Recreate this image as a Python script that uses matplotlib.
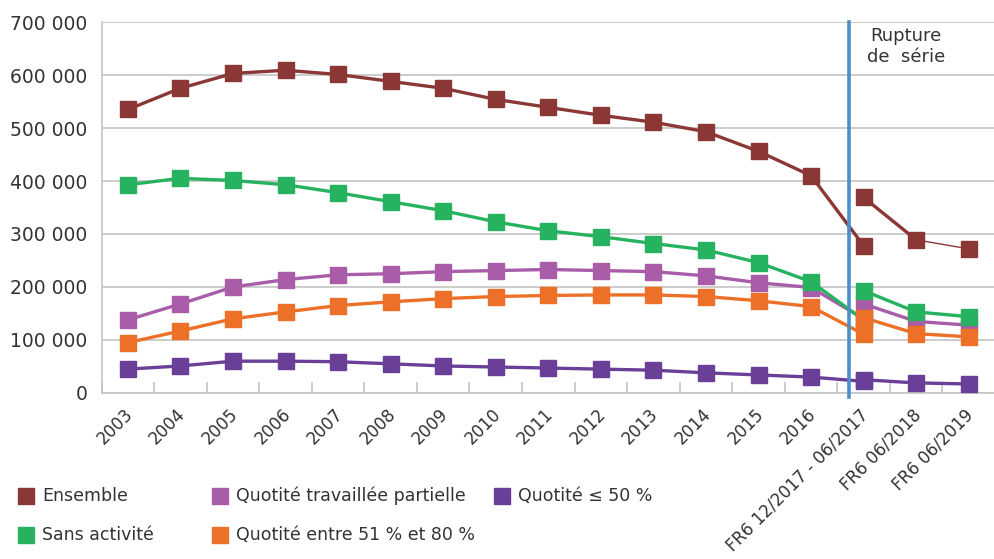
import matplotlib
matplotlib.use("Agg")
import matplotlib.pyplot as plt
import matplotlib.transforms as mtransforms
from matplotlib.patches import Rectangle
from matplotlib.ticker import FuncFormatter

# Categories on the x axis
categories = ["2003", "2004", "2005", "2006", "2007", "2008", "2009", "2010",
              "2011", "2012", "2013", "2014", "2015", "2016",
              "FR6 12/2017 - 06/2017", "FR6 06/2018", "FR6 06/2019"]

# Former series: 2003-2016 plus the FR6 12/2017 point under the old method
ensemble_old = [535000, 575000, 603000, 609000, 601000, 588000, 575000, 554000,
                539000, 524000, 511000, 493000, 456000, 410000, 278000]
sans_activite_old = [393000, 405000, 401000, 393000, 378000, 361000, 344000, 323000,
                     306000, 295000, 282000, 270000, 246000, 210000, 138000]
partielle_old = [138000, 168000, 200000, 214000, 223000, 225000, 229000, 231000,
                 233000, 231000, 229000, 221000, 208000, 199000, 140000]
q51_80_old = [95000, 117000, 140000, 153000, 165000, 172000, 178000, 182000,
              184000, 185000, 185000, 182000, 174000, 163000, 111000]
q50_old = [45000, 51000, 60000, 60000, 59000, 55000, 51000, 49000,
           47000, 45000, 43000, 38000, 34000, 30000, 22000]

# New series: FR6 12/2017, FR6 06/2018, FR6 06/2019
ensemble_new = [369000, 289000, 272000]
sans_activite_new = [193000, 153000, 144000]
partielle_new = [168000, 135000, 128000]
q51_80_new = [142000, 112000, 106000]
q50_new = [25000, 19000, 17000]

labels = ["Ensemble", "Quotité travaillée partielle", "Sans activité",
          "Quotité entre 51 % et 80 %", "Quotité ≤ 50 %"]
colors = ["#8B3735", "#A95CA7", "#27B260", "#EC7027", "#6A3F98"]
old_series = [ensemble_old, partielle_old, sans_activite_old, q51_80_old, q50_old]
new_series = [ensemble_new, partielle_new, sans_activite_new, q51_80_new, q50_new]

text_color = "#333333"
plt.rcParams["font.family"] = ["DejaVu Sans"]

fig = plt.figure(figsize=(9.95, 5.59), dpi=100)
ax = fig.add_axes([0.1021, 0.2970, 1 - 0.1021, 0.9606 - 0.2970])

x_old = list(range(len(ensemble_old)))
x_new = list(range(14, 14 + len(ensemble_new)))

for i, (lab, col, yo, yn) in enumerate(zip(labels, colors, old_series, new_series)):
    z = 3 + i
    ax.plot(x_old, yo, color=col, lw=2.4, marker="s", ms=11.5, mec=col,
            zorder=z, solid_joinstyle="round")
    if i == 0:
        ax.plot(x_new[:2], yn[:2], color=col, lw=2.4, zorder=z)
        ax.plot(x_new[1:], yn[1:], color=col, lw=1.0, zorder=z)
        ax.plot(x_new, yn, ls="none", marker="s", ms=11.5, color=col, zorder=z)
    else:
        ax.plot(x_new, yn, color=col, lw=2.4, marker="s", ms=11.5, mec=col,
                zorder=z, solid_joinstyle="round")

# Series break marker
ax.axvline(13.73, ymin=-0.012, ymax=1.0, color="#4A8FCC", lw=2.6, zorder=10,
           clip_on=False)
ax.text(13.73 + 1.08, 690000, "Rupture\nde  série", ha="center", va="top",
        fontsize=13, color=text_color, linespacing=1.2)

ax.set_xlim(-0.5, 16.42)
ax.set_ylim(0, 700000)
ax.set_yticks(range(0, 700001, 100000))
ax.yaxis.set_major_formatter(FuncFormatter(
    lambda v, p: "0" if v == 0 else f"{int(v):,}".replace(",", " ")))
ax.grid(axis="y", color="#C4C4C4", lw=1.2)
ax.set_axisbelow(True)

ax.set_xticks(range(len(categories)))
ax.set_xticklabels(categories, rotation=45, ha="right", va="top",
                   rotation_mode="anchor", fontsize=12.1, color=text_color)
ax.tick_params(axis="x", length=0, pad=11)
shift = mtransforms.ScaledTranslation(-3 / 72, 2 / 72, fig.dpi_scale_trans)
for lbl in ax.get_xticklabels():
    lbl.set_transform(lbl.get_transform() + shift)
ax.set_xticks([k - 0.5 for k in range(len(categories) + 1)], minor=True)
ax.tick_params(axis="x", which="minor", direction="in", length=8,
               color="#C4C4C4", width=1.2)
ax.tick_params(axis="y", length=0, pad=10, labelsize=13.5, labelcolor=text_color)

for s in ["top", "right"]:
    ax.spines[s].set_visible(False)
for s in ["left", "bottom"]:
    ax.spines[s].set_color("#C4C4C4")
    ax.spines[s].set_linewidth(1.2)

# Legend drawn as squares and text
legend_items = [
    ("Ensemble", colors[0], 18, 496),
    ("Quotité travaillée partielle", colors[1], 212, 496),
    ("Quotité ≤ 50 %", colors[4], 494, 496),
    ("Sans activité", colors[2], 18, 535),
    ("Quotité entre 51 % et 80 %", colors[3], 212, 535),
]
W, H = 995, 559
for name, col, px, py in legend_items:
    fig.patches.append(Rectangle((px / W, 1 - (py + 8) / H), 16 / W, 16 / H,
                                 transform=fig.transFigure, color=col))
    fig.text((px + 24) / W, 1 - py / H, name, ha="left", va="center",
             fontsize=12.5, color=text_color)

fig.savefig("out.png", dpi=100)
